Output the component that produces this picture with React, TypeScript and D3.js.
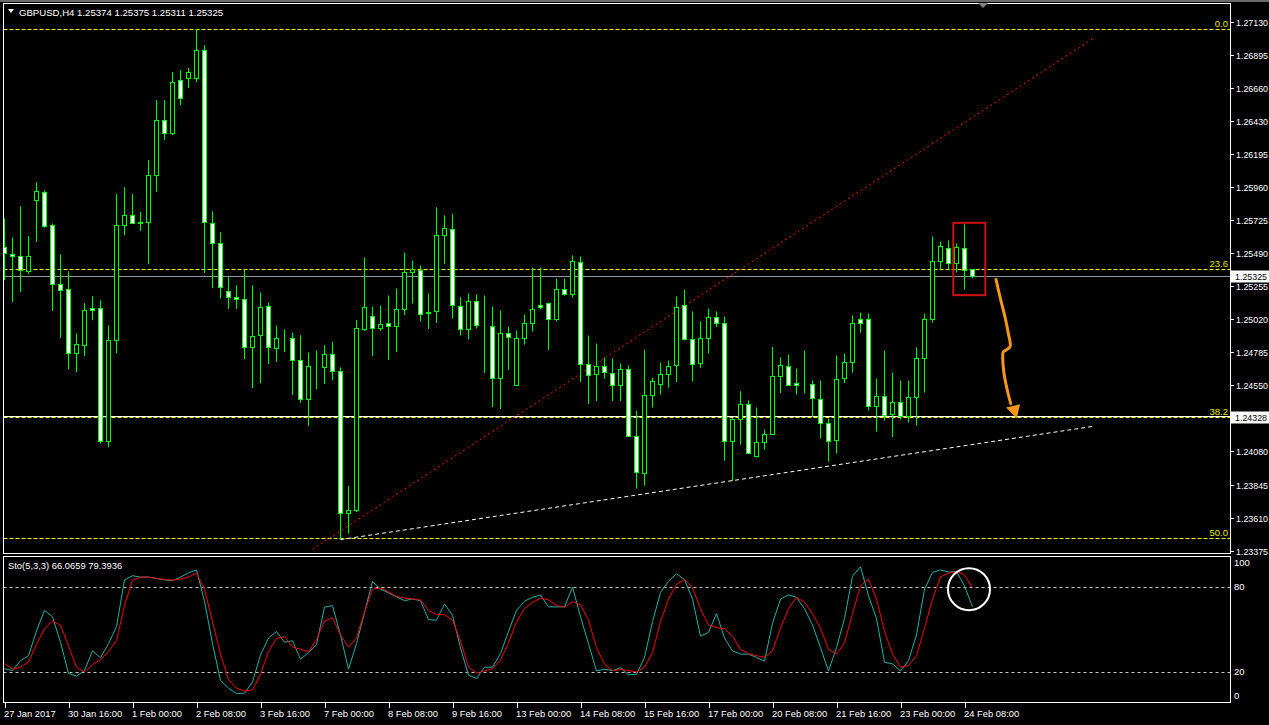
import * as d3 from "d3";

// GBPUSD H4 candles (bar 0 = 27 Jan 2017 08:00)
const opens = [1.25534,1.25487,1.25466,1.25366,1.25864,1.25925,1.25693,1.25267,1.25238,1.24783,1.24837,1.25103,1.25103,1.24157,1.24869,1.25693,1.25764,1.25705,1.2571,1.26044,1.26435,1.26342,1.26719,1.26733,1.26733,1.26933,1.25707,1.25565,1.25224,1.25181,1.25167,1.24826,1.24911,1.25117,1.24819,1.2489,1.24883,1.24733,1.24456,1.24691,1.24681,1.24776,1.24652,1.23646,1.23667,1.24954,1.25046,1.24961,1.24996,1.24975,1.25096,1.25352,1.25373,1.25065,1.25075,1.25622,1.25658,1.25117,1.24954,1.25146,1.24982,1.24975,1.24605,1.24925,1.24549,1.2489,1.24996,1.25124,1.25132,1.25025,1.25238,1.25196,1.2543,1.24705,1.24634,1.24691,1.24641,1.24549,1.24669,1.24193,1.2393,1.24485,1.24563,1.24634,1.24698,1.25124,1.24876,1.24712,1.24883,1.25039,1.24996,1.24157,1.24314,1.2442,1.24051,1.2415,1.24207,1.24613,1.24691,1.2457,1.24567,1.24563,1.24456,1.24285,1.24165,1.24605,1.24719,1.25018,1.25018,1.24406,1.24477,1.24349,1.24435,1.24335,1.2447,1.24741,1.25025,1.25437,1.25523,1.25416,1.25523,1.25374];
const highs = [1.25736,1.25601,1.25823,1.2561,1.25994,1.25937,1.257,1.25482,1.25361,1.2492,1.25134,1.25183,1.25155,1.24977,1.25909,1.25958,1.25909,1.25781,1.2615,1.26577,1.26577,1.26776,1.2679,1.26805,1.27082,1.26968,1.25786,1.25638,1.25319,1.2526,1.25373,1.2526,1.2521,1.25139,1.24975,1.24947,1.24925,1.24906,1.24783,1.24797,1.24835,1.24861,1.24677,1.23837,1.25013,1.25459,1.2511,1.25117,1.25188,1.25238,1.25494,1.25437,1.25402,1.25203,1.25814,1.25757,1.25771,1.25176,1.25203,1.25196,1.25188,1.2511,1.25082,1.24968,1.2494,1.25053,1.25387,1.25387,1.25139,1.25309,1.25309,1.25473,1.25466,1.24904,1.24847,1.24748,1.24741,1.24705,1.24691,1.24368,1.24804,1.24605,1.24712,1.24726,1.25181,1.25231,1.25075,1.25004,1.25096,1.25075,1.25039,1.24316,1.24508,1.24444,1.24392,1.24236,1.24823,1.24748,1.24769,1.24669,1.24797,1.24584,1.24584,1.24314,1.24762,1.24776,1.25046,1.25068,1.2506,1.24598,1.24797,1.24641,1.24584,1.24584,1.24819,1.2506,1.25608,1.25572,1.25579,1.25558,1.25693,1.25375];
const lows = [1.25297,1.25143,1.25214,1.2534,1.25569,1.25669,1.25079,1.24887,1.24664,1.24645,1.24759,1.25013,1.24136,1.24112,1.24778,1.25617,1.257,1.25648,1.25413,1.25925,1.26293,1.26328,1.26541,1.26662,1.26705,1.25349,1.25242,1.25167,1.25093,1.25093,1.24736,1.24531,1.24565,1.24702,1.24716,1.24787,1.24482,1.24425,1.24261,1.24522,1.2456,1.24586,1.23454,1.23496,1.2365,1.24937,1.24759,1.24937,1.24731,1.24787,1.2505,1.25132,1.25004,1.24951,1.24994,1.25413,1.25025,1.24904,1.24876,1.24954,1.24638,1.24396,1.24382,1.24659,1.24549,1.2484,1.24932,1.25089,1.24802,1.25004,1.25188,1.25174,1.24574,1.24418,1.24439,1.24598,1.24439,1.24439,1.24193,1.23816,1.23837,1.24392,1.24485,1.24534,1.24574,1.24869,1.24577,1.24674,1.24776,1.24965,1.24015,1.2387,1.24129,1.24065,1.24037,1.24093,1.242,1.24496,1.24549,1.24485,1.24492,1.24325,1.24172,1.24008,1.24065,1.24567,1.24641,1.24925,1.24371,1.24221,1.243,1.24183,1.24307,1.24285,1.24264,1.24499,1.24996,1.25373,1.25373,1.25352,1.25231,1.25311];
const closes = [1.25491,1.25466,1.25373,1.25466,1.25928,1.25683,1.25267,1.25231,1.24783,1.24847,1.25082,1.25082,1.24153,1.24869,1.25686,1.25764,1.25705,1.2571,1.26044,1.26435,1.26342,1.26705,1.26591,1.26776,1.26933,1.25712,1.25565,1.2525,1.25181,1.25167,1.24826,1.24904,1.2511,1.24826,1.2489,1.24885,1.24733,1.24456,1.24691,1.24686,1.24776,1.24655,1.23646,1.23667,1.24961,1.2511,1.24961,1.24989,1.24975,1.25096,1.25359,1.2538,1.2506,1.2507,1.25622,1.25665,1.25124,1.24947,1.25146,1.24982,1.24977,1.24605,1.24925,1.24897,1.2489,1.24996,1.25096,1.25105,1.25025,1.25238,1.25196,1.25437,1.24705,1.24627,1.24691,1.24648,1.24549,1.24669,1.24193,1.23937,1.24485,1.24584,1.24634,1.24691,1.2511,1.24876,1.24705,1.24883,1.25039,1.24996,1.24157,1.24314,1.24416,1.24072,1.2415,1.24207,1.2462,1.24698,1.24556,1.24556,1.24565,1.24463,1.24285,1.24157,1.24598,1.24719,1.24996,1.24996,1.24406,1.24477,1.24342,1.24435,1.24335,1.2447,1.24741,1.25018,1.25437,1.25537,1.25416,1.2553,1.25373,1.25325];

// Stochastic(5,3,3)
const stochK = [22.3,21,28,31.5,49,63.5,59,41,19,17,21,35,30,40,52,85,88,87,87,86,85,84.5,87,90,92,70,40,14,8.6,4.7,5,13,32,44,48.6,41,42,29,33.7,39.5,65.8,66.9,46,22,40,62,84,78.4,76,73,70.4,71.5,70.4,57,56.6,68,60,37,17.7,15.4,23.4,23.4,33,48.6,63.5,70,72.7,74.3,66,66,66,80,59,40,20.7,22,21,23,18,18.4,30.3,55.5,76.1,84.1,89.4,85.3,71.5,45.2,48,61.2,44,34.9,32.6,32.6,30.3,27.6,54.4,71.5,74.5,72.7,64.7,53.2,37.2,20.7,37.2,57.8,87.6,94.4,73.8,57.8,26.9,25.7,20.7,28,46.3,78.4,90.3,92.1,90.5,91,80.7,66.07];
const stochD = [26,22,23.4,27,39.5,50.5,56,53,38.3,23.4,20,25.3,28.7,34.4,42.2,67,84.8,87,87,86,85.3,84.8,85.7,87,89.8,78.4,55.5,32.6,14.7,8.6,6.5,7.4,18.4,34.4,43.6,45,37.6,36,34.4,43,56,58.2,46.3,37.6,44,62.4,78.4,79.3,76.6,73.4,72.2,71.5,70.8,63.5,60.5,60.5,56.6,41.8,23.4,19.3,20.7,22.3,28.5,40.6,55.5,64.7,69.2,72,71,67,65.8,69.7,67.4,56.6,37.2,25.7,21,21.8,21,20,23.4,33.7,55.5,71.5,81.8,85.3,79.5,64.7,53.2,51.4,50.5,45.2,36,33,31.5,30.3,34.9,50.9,64.7,72.7,69.2,61.2,50.9,36,32.6,40.6,61.2,80.7,85.7,71.5,48.6,32.6,23.4,24.6,31.5,50.9,71.5,87.1,89.8,91,88.7,79.39];

const priceTicks = [1.2713,1.26895,1.2666,1.2643,1.26195,1.2596,1.25725,1.2549,1.25255,1.2502,1.24785,1.2455,1.2408,1.23845,1.2361,1.23375];
const timeLabels = ["27 Jan 2017","30 Jan 16:00","1 Feb 00:00","2 Feb 08:00","3 Feb 16:00","7 Feb 00:00","8 Feb 08:00","9 Feb 16:00","13 Feb 00:00","14 Feb 08:00","15 Feb 16:00","17 Feb 00:00","20 Feb 08:00","21 Feb 16:00","23 Feb 00:00","24 Feb 08:00"];
const stochLevels = [80, 20];
const stochTicks = [100, 80, 20, 0];

// objects on the chart
const fibHigh = 1.27085;
const fibLow = 1.19852;
const fibLevels = [0, 23.6, 38.2, 50];
const bidPrice = 1.25325;
const hLinePrice = 1.24328;
const redTrend: [number, number][] = [[38.5, 1.23385], [136, 1.27012]];
const whiteTrend: [number, number][] = [[42, 1.23454], [136, 1.24258]];
const boxBars = [118.6, 122.6];
const boxPrices = [1.25705, 1.25191];
const arrowPath: [number, number][] = [[123.94,1.25302],[124.44,1.25178],[125.06,1.25036],[125.48,1.24918],[125.69,1.24823],[124.85,1.24787],[124.78,1.24752],[124.94,1.24634],[125.35,1.24515],[125.78,1.2442]];
const arrowHead: [number, number][] = [[125.19,1.24392],[126.94,1.24416],[126.53,1.24314]];
const circleAt = [120.56, 78.5];

const FONT = "'Liberation Sans', Arial, sans-serif";
const GREEN = "#00ff00";

export default function App() {
  const n = closes.length;
  const x = d3.scaleLinear().domain([0, n - 1]).range([4.5, 4.5 + 8 * (n - 1)]);
  const y = d3.scaleLinear().domain([1.23375, 1.2713]).range([550.7, 22.3]);
  const ys = d3.scaleLinear().domain([0, 100]).range([700.3, 558.7]);
  const crisp = (v: number) => Math.round(v) + 0.5;

  const PL = 3.5, PR = 1230.5;
  const line = d3.line<[number, number]>().x((d) => x(d[0])).y((d) => y(d[1]));
  const sLine = d3.line<number>().x((_, i) => x(i)).y((d) => ys(d));
  const arrow = d3.line<[number, number]>().x((d) => x(d[0])).y((d) => y(d[1])).curve(d3.curveCatmullRom);

  return (
    <div style={{ position: "fixed", left: 0, top: 0, width: 1269, height: 725, background: "#000" }}>
      <svg width={1269} height={725} style={{ display: "block", background: "#000" }} fontFamily={FONT}>
        <defs>
          <clipPath id="main">
            <rect x={4} y={3} width={1226} height={550} />
          </clipPath>
          <clipPath id="sto">
            <rect x={4} y={557} width={1226} height={146} />
          </clipPath>
        </defs>
        <rect x={0} y={0} width={1269} height={2} fill="#6a6a6a" />

        <line x1={PL} x2={PR} y1={crisp(y(bidPrice))} y2={crisp(y(bidPrice))} stroke="#8796a4" />
        <line x1={PL} x2={PR} y1={crisp(y(hLinePrice)) - 1} y2={crisp(y(hLinePrice)) - 1} stroke="#ffffff" />

        {/* fibo levels */}
        {fibLevels.map((lv) => {
          const yy = crisp(y(fibHigh - ((fibHigh - fibLow) * lv) / 100));
          return (
            <g key={lv}>
              <line x1={PL} x2={PR} y1={yy} y2={yy} stroke="#ffff00" strokeDasharray="4,2" />
              <text x={1228} y={yy - 3} textAnchor="end" fill="#e8e800" fontSize={9.5}>
                {lv.toFixed(1)}
              </text>
            </g>
          );
        })}

        <g clipPath="url(#main)">
          <path d={line(redTrend) || ""} stroke="#ff0000" strokeDasharray="2,3" fill="none" />
          <path d={line(whiteTrend) || ""} stroke="#ffffff" strokeDasharray="4,3" fill="none" />
          {closes.map((c, i) => {
            const o = opens[i];
            const cx = x(i);
            const top = crisp(y(Math.max(o, c)));
            const bot = crisp(y(Math.min(o, c)));
            return (
              <g key={i}>
                <line x1={cx} x2={cx} y1={y(highs[i])} y2={y(lows[i])} stroke={GREEN} />
                <rect x={cx - 2} y={top} width={4} height={Math.max(0, bot - top)} fill={c < o ? "#ffffff" : "#000000"} stroke={GREEN} />
              </g>
            );
          })}
          <rect x={x(boxBars[0])} y={y(boxPrices[0])} width={x(boxBars[1]) - x(boxBars[0])} height={y(boxPrices[1]) - y(boxPrices[0])} fill="none" stroke="#d01010" strokeWidth={2} />
          <path d={arrow(arrowPath) || ""} stroke="#f7981d" strokeWidth={3} fill="none" strokeLinecap="round" />
          <path d={(d3.line<[number, number]>().x((d) => x(d[0])).y((d) => y(d[1]))(arrowHead) || "") + "Z"} fill="#f7981d" />
        </g>

        {/* panel frames */}
        <rect x={PL} y={3.5} width={PR - PL} height={550} fill="none" stroke="#ffffff" />
        <rect x={PL} y={556.5} width={PR - PL} height={146} fill="none" stroke="#ffffff" />

        {/* title */}
        <path d="M8,9 L14,9 L11,13 Z" fill="#ffffff" />
        <text x={19} y={15.5} fill="#ffffff" fontSize={9.6}>
          GBPUSD,H4  1.25374 1.25375 1.25311 1.25325
        </text>

        {/* price axis */}
        {priceTicks.map((p) => {
          const yy = crisp(y(p));
          return (
            <g key={p}>
              <line x1={1231} x2={1234} y1={yy} y2={yy} stroke="#ffffff" />
              <text x={1236} y={yy} dy="0.35em" fill="#ffffff" fontSize={9} textLength={32} lengthAdjust="spacingAndGlyphs">
                {p.toFixed(5)}
              </text>
            </g>
          );
        })}
        {[bidPrice, hLinePrice].map((p) => {
          const yy = crisp(y(p));
          return (
            <g key={p}>
              <rect x={1231} y={yy - 6} width={38} height={12} fill="#ffffff" />
              <text x={1235} y={yy} dy="0.35em" fill="#000000" fontSize={9} textLength={32} lengthAdjust="spacingAndGlyphs">
                {p.toFixed(5)}
              </text>
            </g>
          );
        })}

        {/* stochastic */}
        {stochLevels.map((lv) => (
          <line key={lv} x1={PL} x2={PR} y1={crisp(ys(lv))} y2={crisp(ys(lv))} stroke="#c8c8c8" strokeDasharray="3,3" />
        ))}
        <g clipPath="url(#sto)">
          <path d={sLine(stochK) || ""} stroke="#20b2aa" fill="none" />
          <path d={sLine(stochD) || ""} stroke="#ff0000" fill="none" />
          <circle cx={x(circleAt[0])} cy={ys(circleAt[1])} r={21} fill="none" stroke="#ffffff" strokeWidth={2} />
        </g>
        <text x={8} y={569} fill="#ffffff" fontSize={9.4}>
          Sto(5,3,3) 66.0659 79.3936
        </text>
        {stochTicks.map((t) => (
          <text key={t} x={1234} y={Math.min(Math.max(ys(t), 563), 696)} dy="0.35em" fill="#ffffff" fontSize={9.5}>
            {t}
          </text>
        ))}

        {/* time axis */}
        {timeLabels.map((lb, k) => {
          const tx = crisp(x(k * 8));
          return (
            <g key={lb}>
              <line x1={tx} x2={tx} y1={703} y2={708} stroke="#ffffff" />
              <text x={tx - 1.5} y={717} fill="#ffffff" fontSize={9.4}>
                {lb}
              </text>
            </g>
          );
        })}
        <path d="M978,3 L988,3 L983,8 Z" fill="#808080" />
      </svg>
    </div>
  );
}
